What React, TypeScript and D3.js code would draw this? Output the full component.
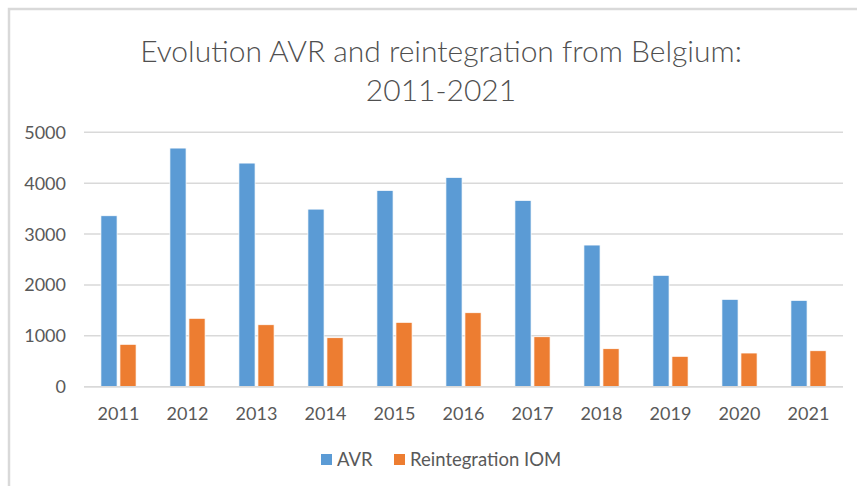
import { useEffect, useRef } from "react";
import * as d3 from "d3";

const years = ["2011", "2012", "2013", "2014", "2015", "2016", "2017", "2018", "2019", "2020", "2021"];
const avr = [3360, 4690, 4395, 3490, 3858, 4114, 3662, 2784, 2189, 1717, 1697];
const reintegration = [833, 1344, 1218, 963, 1265, 1454, 982, 747, 597, 662, 707];
const seriesNames = ["AVR", "Reintegration IOM"];
const seriesColors = ["#5B9BD5", "#ED7D31"];
const yTicks = [0, 1000, 2000, 3000, 4000, 5000];

const App = () => {
    const svgRef = useRef<SVGSVGElement | null>(null);

    useEffect(() => {
        if (!svgRef.current) return;

        const svg = d3.select(svgRef.current);
        const width = 857;
        const height = 486;
        const margin = { top: 132.3, right: 14, bottom: 99.3, left: 84 };
        const font = "Lato, 'Open Sans', sans-serif";
        const textColor = "#595959";

        svg.selectAll("*").remove();

        // outer chart frame (cut off at right and bottom in the picture)
        svg.append("rect")
            .attr("x", 9)
            .attr("y", 9)
            .attr("width", width + 20)
            .attr("height", height + 20)
            .attr("fill", "#fff")
            .attr("stroke", "#d9d9d9")
            .attr("stroke-width", 2.5);

        const x0 = d3.scaleBand<string>()
            .domain(years)
            .range([margin.left, width - margin.right])
            .paddingInner(0.49)
            .paddingOuter(0.245);

        const x1 = d3.scaleBand<string>()
            .domain(seriesNames)
            .range([0, x0.bandwidth()])
            .paddingInner(0.15);

        const y = d3.scaleLinear()
            .domain([0, 5000])
            .range([height - margin.bottom, margin.top]);

        // gridlines
        svg.append("g")
            .selectAll("line")
            .data(yTicks)
            .join("line")
            .attr("x1", margin.left)
            .attr("x2", width - margin.right)
            .attr("y1", d => y(d))
            .attr("y2", d => y(d))
            .attr("stroke", "#d9d9d9")
            .attr("stroke-width", 1.5);

        // y labels
        svg.append("g")
            .selectAll("text")
            .data(yTicks)
            .join("text")
            .attr("x", 66)
            .attr("y", d => y(d) + 6.5)
            .attr("text-anchor", "end")
            .attr("font-family", font)
            .attr("font-size", 18)
            .attr("fill", textColor)
            .text(d => String(d));

        const series = [avr, reintegration];
        const rows = years.map((yr, i) => ({ year: yr, values: series.map((s, k) => ({ name: seriesNames[k], value: s[i], color: seriesColors[k] })) }));

        svg.append("g")
            .selectAll("g")
            .data(rows)
            .join("g")
            .attr("transform", d => `translate(${x0(d.year)},0)`)
            .selectAll("rect")
            .data(d => d.values)
            .join("rect")
            .attr("x", d => x1(d.name) ?? 0)
            .attr("width", x1.bandwidth())
            .attr("y", d => y(d.value))
            .attr("height", d => y(0) - y(d.value))
            .attr("fill", d => d.color)
            .attr("stroke", "#fff")
            .attr("stroke-width", 0.75);

        // baseline
        svg.append("line")
            .attr("x1", margin.left)
            .attr("x2", width - margin.right)
            .attr("y1", y(0))
            .attr("y2", y(0))
            .attr("stroke", "#d9d9d9")
            .attr("stroke-width", 1.5);

        // x labels
        svg.append("g")
            .selectAll("text")
            .data(years)
            .join("text")
            .attr("x", d => (x0(d) ?? 0) + x0.bandwidth() / 2)
            .attr("y", 420)
            .attr("text-anchor", "middle")
            .attr("font-family", font)
            .attr("font-size", 18)
            .attr("fill", textColor)
            .text(d => d);

        // title
        const title = svg.append("text")
            .attr("text-anchor", "middle")
            .attr("font-family", font)
            .attr("font-weight", 300)
            .attr("font-size", 30)
            .attr("fill", "#505050");
        title.append("tspan").attr("x", 441).attr("y", 61.7).text("Evolution AVR and reintegration from Belgium:");
        title.append("tspan").attr("x", 441).attr("y", 101).text("2011-2021");

        // legend
        const legendX = [321, 394];
        const legend = svg.append("g")
            .selectAll("g")
            .data(seriesNames)
            .join("g")
            .attr("transform", (_, i) => `translate(${legendX[i]},454)`);
        legend.append("rect")
            .attr("width", 11)
            .attr("height", 11)
            .attr("fill", (_, i) => seriesColors[i]);
        legend.append("text")
            .attr("x", 16)
            .attr("y", 12)
            .attr("font-family", font)
            .attr("font-size", 18.5)
            .attr("fill", textColor)
            .text(d => d);
    }, []);

    return (
        <svg
            ref={svgRef}
            width={857}
            height={486}
            style={{ position: "absolute", left: 0, top: 0, background: "#fff" }}
        ></svg>
    );
};

export default App;
